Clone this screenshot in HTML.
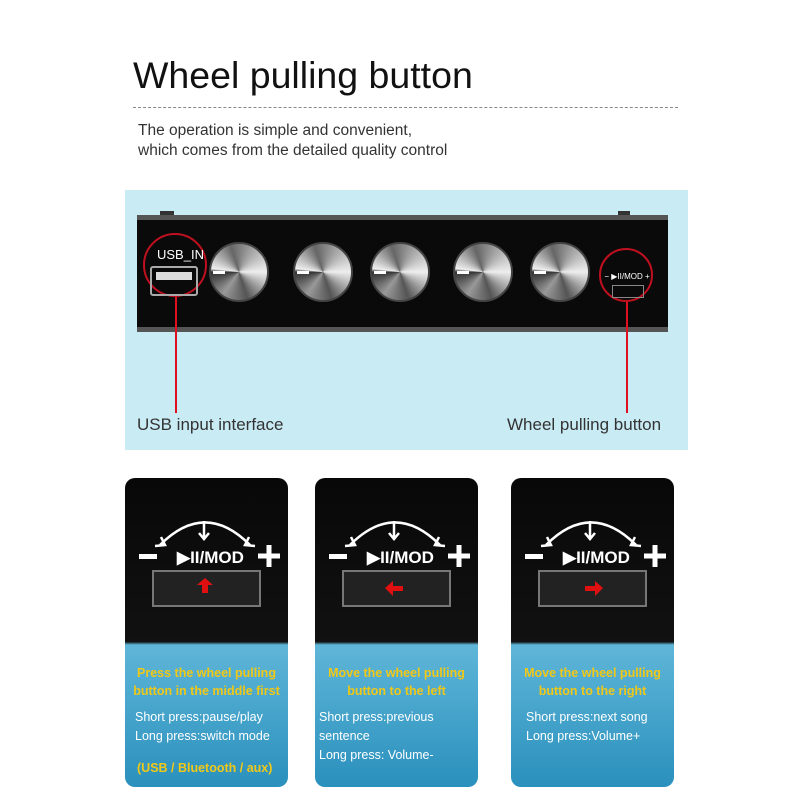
<!DOCTYPE html>
<html><head><meta charset="utf-8"><style>
body{margin:0;width:800px;height:800px;background:#fff;position:relative;overflow:hidden;font-family:"Liberation Sans","DejaVu Sans",sans-serif}
.a{position:absolute}
.knob{position:absolute;width:60px;height:60px;border-radius:50%;background:conic-gradient(from 90deg,#eee,#555 20%,#999 35%,#333 50%,#eee 52%,#666 70%,#aaa 85%,#eee);border:2px solid #444;box-sizing:border-box}
.knob:after{content:"";position:absolute;left:2px;top:27px;width:12px;height:3px;background:#fff}
.card{position:absolute;top:478px;width:163px;height:309px;border-radius:10px;overflow:hidden;background:linear-gradient(#080808 0,#111 53%,#5fb6d8 54%,#2a90bd 100%)}
.card .y{position:absolute;left:0;width:100%;text-align:center;color:#f0c818;font-size:12.5px;font-weight:bold;line-height:18px}
.card .w{position:absolute;left:10px;color:#fff;font-size:12.5px;line-height:19px}
.ctl{position:absolute;left:0;top:0;width:163px;height:140px}
</style></head><body>
<div class="a" style="left:133px;top:54px;font-size:37.5px;color:#111">Wheel pulling button</div>
<div class="a" style="left:133px;top:107px;width:545px;border-top:1px dashed #888"></div>
<div class="a" style="left:138px;top:121px;font-size:15.5px;color:#333;line-height:20px">The operation is simple and convenient,<br>which comes from the detailed quality control</div>
<div class="a" style="left:125px;top:190px;width:563px;height:260px;background:#c9ebf4"></div>
<div class="a" style="left:137px;top:215px;width:531px;height:117px;background:#0a0a0a;border-top:5px solid #555;border-bottom:5px solid #555;box-sizing:border-box"></div>
<div class="a" style="left:160px;top:211px;width:14px;height:4px;background:#333"></div>
<div class="a" style="left:618px;top:211px;width:12px;height:4px;background:#333"></div>
<div class="knob" style="left:209px;top:242px"></div>
<div class="knob" style="left:293px;top:242px"></div>
<div class="knob" style="left:370px;top:242px"></div>
<div class="knob" style="left:453px;top:242px"></div>
<div class="knob" style="left:530px;top:242px"></div>
<div class="a" style="left:143px;top:233px;width:64px;height:64px;border:2px solid #c01020;border-radius:50%;box-sizing:border-box"></div>
<div class="a" style="left:157px;top:247px;color:#fff;font-size:13px">USB_IN</div>
<div class="a" style="left:150px;top:266px;width:48px;height:30px;border:2px solid #aaa;border-radius:3px;box-sizing:border-box"><div style="margin:4px;height:8px;background:#ddd"></div></div>
<div class="a" style="left:599px;top:248px;width:54px;height:54px;border:2px solid #c01020;border-radius:50%;box-sizing:border-box"></div>
<div class="a" style="left:601px;top:272px;color:#fff;font-size:8px;width:52px;text-align:center">−&nbsp;▶II/MOD&nbsp;+</div>
<div class="a" style="left:612px;top:285px;width:30px;height:11px;border:1px solid #888"></div>
<div class="a" style="left:175px;top:297px;width:2px;height:116px;background:#e01020"></div>
<div class="a" style="left:626px;top:302px;width:2px;height:111px;background:#e01020"></div>
<div class="a" style="left:137px;top:415px;font-size:17px;color:#333">USB input interface</div>
<div class="a" style="left:507px;top:415px;font-size:17px;color:#333">Wheel pulling button</div>

<div class="card" style="left:125px">
<svg class="ctl" viewBox="0 0 163 140"><path d="M35 67 Q80 22 125 67" fill="none" stroke="#fff" stroke-width="2.5"/><path d="M30 68l10-1-4-8M130 68l-10-1 4-8" fill="none" stroke="#fff" stroke-width="2.5"/><path d="M79 43V60M74 55l5 6 5-6" fill="none" stroke="#fff" stroke-width="2.5"/>
<rect x="14" y="76" width="18" height="5" fill="#fff"/><path d="M133 78h22M144 67v22" stroke="#fff" stroke-width="5"/>
<text x="52" y="85" fill="#fff" font-size="17" font-weight="bold" font-family="Liberation Sans">▶II/MOD</text>
<rect x="28" y="93" width="107" height="35" fill="#222" stroke="#777" stroke-width="2"/><path d="M80 100l-8 7h5v8h6v-8h5z" fill="#e01010"/></svg>
<div class="y" style="top:186px">Press the wheel pulling<br>button in the middle first</div>
<div class="w" style="top:230px">Short press:pause/play<br>Long press:switch mode</div>
<div class="y" style="top:281px;text-align:left;left:12px">(USB / Bluetooth / aux)</div></div>

<div class="card" style="left:315px">
<svg class="ctl" viewBox="0 0 163 140"><path d="M35 67 Q80 22 125 67" fill="none" stroke="#fff" stroke-width="2.5"/><path d="M30 68l10-1-4-8M130 68l-10-1 4-8" fill="none" stroke="#fff" stroke-width="2.5"/><path d="M79 43V60M74 55l5 6 5-6" fill="none" stroke="#fff" stroke-width="2.5"/>
<rect x="14" y="76" width="18" height="5" fill="#fff"/><path d="M133 78h22M144 67v22" stroke="#fff" stroke-width="5"/>
<text x="52" y="85" fill="#fff" font-size="17" font-weight="bold" font-family="Liberation Sans">▶II/MOD</text>
<rect x="28" y="93" width="107" height="35" fill="#222" stroke="#777" stroke-width="2"/><path d="M70 110l8-7v5h10v5h-10v5z" fill="#e01010"/></svg>
<div class="y" style="top:186px">Move the wheel pulling<br>button to the left</div>
<div class="w" style="top:230px;left:4px">Short press:previous<br>sentence<br>Long press: Volume-</div></div>

<div class="card" style="left:511px">
<svg class="ctl" viewBox="0 0 163 140"><path d="M35 67 Q80 22 125 67" fill="none" stroke="#fff" stroke-width="2.5"/><path d="M30 68l10-1-4-8M130 68l-10-1 4-8" fill="none" stroke="#fff" stroke-width="2.5"/><path d="M79 43V60M74 55l5 6 5-6" fill="none" stroke="#fff" stroke-width="2.5"/>
<rect x="14" y="76" width="18" height="5" fill="#fff"/><path d="M133 78h22M144 67v22" stroke="#fff" stroke-width="5"/>
<text x="52" y="85" fill="#fff" font-size="17" font-weight="bold" font-family="Liberation Sans">▶II/MOD</text>
<rect x="28" y="93" width="107" height="35" fill="#222" stroke="#777" stroke-width="2"/><path d="M92 110l-8-7v5h-10v5h10v5z" fill="#e01010"/></svg>
<div class="y" style="top:186px">Move the wheel pulling<br>button to the right</div>
<div class="w" style="top:230px;left:15px">Short press:next song<br>Long press:Volume+</div></div>
</body></html>
